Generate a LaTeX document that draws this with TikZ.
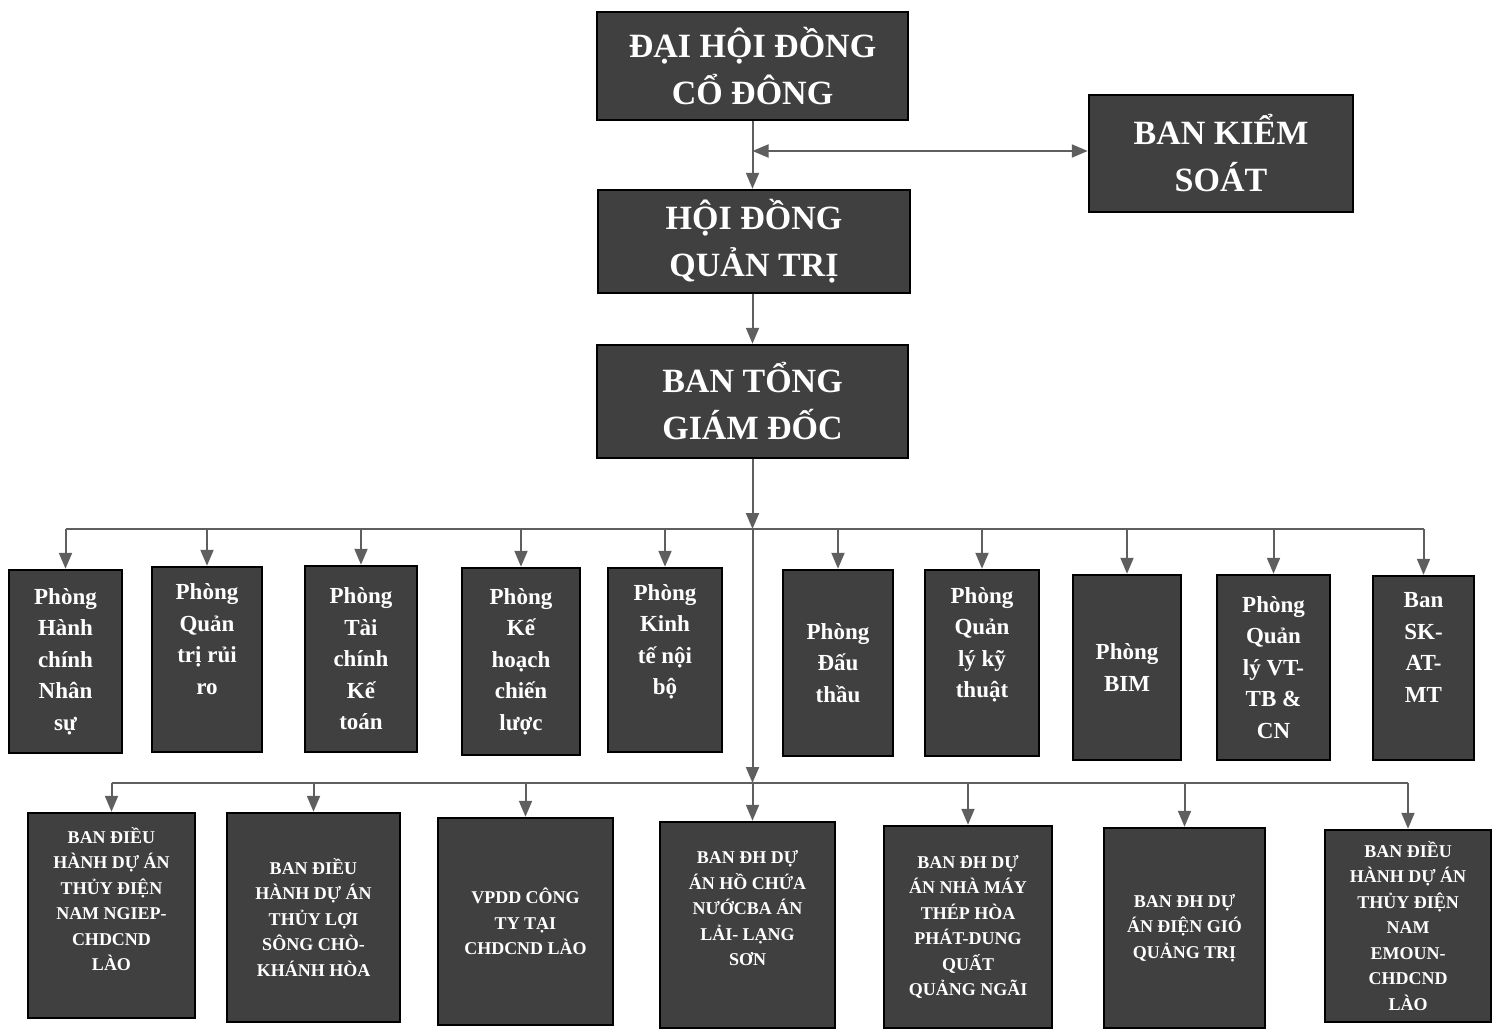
\documentclass[tikz,border=0pt]{standalone}
\usepackage{fontspec}
\setmainfont{Liberation Serif}
\usetikzlibrary{arrows.meta}
\definecolor{boxfill}{RGB}{64,64,64}
\definecolor{linec}{RGB}{95,95,95}
\begin{document}
\begin{tikzpicture}[x=1pt,y=-1pt,
  box/.style={draw=black, line width=2.5pt, fill=boxfill, text=white, align=center, inner sep=0pt, anchor=center},
  topbox/.style={box, font=\bfseries\fontsize{34}{47}\selectfont},
  midbox/.style={box, font=\bfseries\fontsize{23}{31.5}\selectfont},
  lowbox/.style={box, font=\bfseries\fontsize{18}{25.5}\selectfont},
  conn/.style={draw=linec, line width=2pt},
  tip/.tip={Triangle[length=16pt,width=13pt]},
  arr/.style={conn, -tip},
]
\useasboundingbox (0,0) rectangle (1496,1030);

% top level
\node[topbox, minimum width=311pt, minimum height=108pt] (dhcd) at (752.5,66) {ĐẠI HỘI ĐỒNG\\CỔ ĐÔNG};
\node[topbox, minimum width=264pt, minimum height=117pt] (bks) at (1221,153.5) {BAN KIỂM\\SOÁT};
\node[topbox, minimum width=312pt, minimum height=103pt] (hdqt) at (754,241.5) {HỘI ĐỒNG\\QUẢN TRỊ};
\node[topbox, minimum width=311pt, minimum height=113pt] (btgd) at (752.5,401.5) {BAN TỔNG\\GIÁM ĐỐC};

% middle row
\node[midbox, minimum width=113pt, minimum height=183pt] (m1) at (65.5,661.5) {Phòng\\Hành\\chính\\Nhân\\sự};
\node[midbox, minimum width=110pt, minimum height=185pt] (m2) at (207,659.5) {Phòng\\Quản\\trị rủi\\ro\\\strut};
\node[midbox, minimum width=112pt, minimum height=186pt] (m3) at (361,659) {Phòng\\Tài\\chính\\Kế\\toán};
\node[midbox, minimum width=118pt, minimum height=187pt] (m4) at (521,661.5) {Phòng\\Kế\\hoạch\\chiến\\lược};
\node[midbox, minimum width=114pt, minimum height=184pt] (m5) at (665,660) {Phòng\\Kinh\\tế nội\\bộ\\\strut};
\node[midbox, minimum width=110pt, minimum height=186pt] (m6) at (838,663) {Phòng\\Đấu\\thầu};
\node[midbox, minimum width=114pt, minimum height=186pt] (m7) at (982,663) {Phòng\\Quản\\lý kỹ\\thuật\\\strut};
\node[midbox, minimum width=108pt, minimum height=185pt] (m8) at (1127,667.5) {Phòng\\BIM};
\node[midbox, minimum width=113pt, minimum height=185pt] (m9) at (1273.5,667.5) {Phòng\\Quản\\lý VT-\\TB \&\\CN};
\node[midbox, minimum width=101pt, minimum height=184pt] (m10) at (1423.5,668) {Ban\\SK-\\AT-\\MT\\\strut};

% bottom row
\node[lowbox, minimum width=167pt, minimum height=205pt] (b1) at (111.5,915.5) {BAN ĐIỀU\\HÀNH DỰ ÁN\\THỦY ĐIỆN\\NAM NGIEP-\\CHDCND\\LÀO\\\strut};
\node[lowbox, minimum width=173pt, minimum height=209pt] (b2) at (313.5,917.5) {BAN ĐIỀU\\HÀNH DỰ ÁN\\THỦY LỢI\\SÔNG CHÒ-\\KHÁNH HÒA};
\node[lowbox, minimum width=175pt, minimum height=207pt] (b3) at (525.5,921.5) {VPDD CÔNG\\TY TẠI\\CHDCND LÀO};
\node[lowbox, minimum width=175pt, minimum height=206pt] (b4) at (747.5,925) {BAN ĐH DỰ\\ÁN HỒ CHỨA\\NƯỚCBA ÁN\\LẢI- LẠNG\\SƠN\\\strut};
\node[lowbox, minimum width=168pt, minimum height=202pt] (b5) at (968,927) {BAN ĐH DỰ\\ÁN NHÀ MÁY\\THÉP HÒA\\PHÁT-DUNG\\QUẤT\\QUẢNG NGÃI};
\node[lowbox, minimum width=161pt, minimum height=200pt] (b6) at (1184.5,928) {BAN ĐH DỰ\\ÁN ĐIỆN GIÓ\\QUẢNG TRỊ};
\node[lowbox, minimum width=166pt, minimum height=192pt] (b7) at (1408,926) {BAN ĐIỀU\\HÀNH DỰ ÁN\\THỦY ĐIỆN\\NAM\\EMOUN-\\CHDCND\\LÀO};

% junctions
\coordinate (kj) at (752.5,151);
\coordinate (bar1) at (752.5,529);
\coordinate (bar2) at (752.5,783);

% connectors top
\draw[arr] (dhcd.south) -- (dhcd.south |- hdqt.north);
\draw[conn, tip-tip] (kj) -- (kj -| bks.west);
\draw[arr] (hdqt.south -| btgd.north) -- (btgd.north);
\draw[arr] (btgd.south) -- (bar1);
\draw[arr] (bar1) -- (bar2);
\draw[arr] (bar2) -- (bar2 |- b4.north);

% bar 1
\draw[conn] (m1.north |- bar1) -- (m10.north |- bar1);
\foreach \m in {m1,m2,m3,m4,m5,m6,m7,m8,m9,m10}
  \draw[arr] (\m.north |- bar1) -- (\m.north);

% bar 2
\draw[conn] (b1.north |- bar2) -- (b7.north |- bar2);
\foreach \b in {b1,b2,b3,b5,b6,b7}
  \draw[arr] (\b.north |- bar2) -- (\b.north);
\end{tikzpicture}
\end{document}
